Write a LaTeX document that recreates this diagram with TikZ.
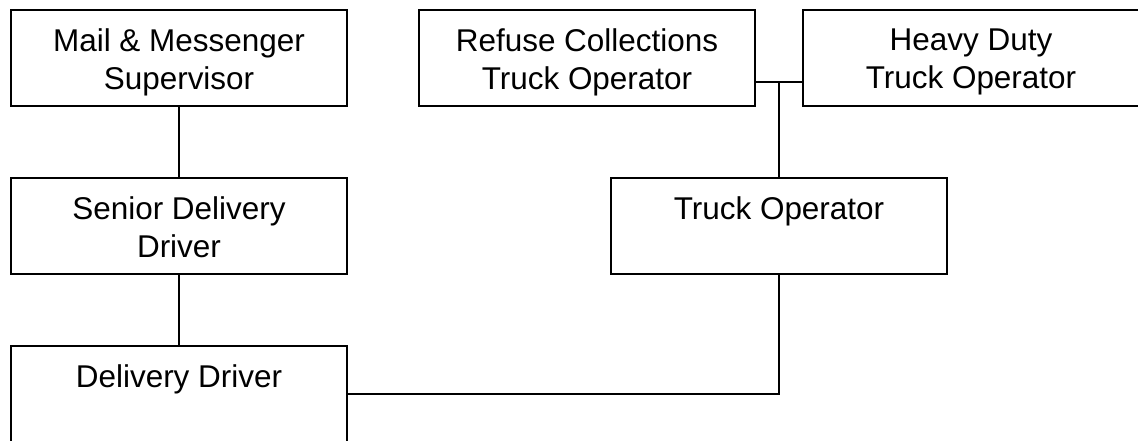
\documentclass[tikz,border=0pt]{standalone}
\usepackage{fontspec}
\setmainfont{Liberation Sans}
\begin{document}
\begin{tikzpicture}[x=0.75pt, y=-0.75pt,
  post/.style={draw, line width=1.5pt, minimum width=252pt, minimum height=72pt, inner sep=0pt,
    label={[anchor=north, align=center, inner sep=0pt, yshift=-14.5pt,
            font=\fontsize{23.6}{28.5}\selectfont]north:#1}},
  link/.style={line width=0.8pt}]
  \useasboundingbox (0,0) rectangle (1138,440);

  % job boxes: name / centre / title
  \foreach \nm/\cx/\cy/\txt in {
    mail/179/58/{Mail \& Messenger\\Supervisor},
    senior/179/226/{Senior Delivery\\Driver},
    delivery/179/394/{Delivery Driver},
    refuse/587/58/{Refuse Collections\\Truck Operator},
    heavy/971/58/{Heavy Duty\\Truck Operator},
    truck/779/226/{Truck Operator}} {
    \node[post={\txt}] (\nm) at (\cx,\cy) {};
  }

  \coordinate (fork) at (779,82);
  \draw[link] (mail) -- (senior);
  \draw[link] (senior) -- (delivery);
  \draw[link] (delivery.east) -| (truck.south);
  \draw[link] (refuse.east |- fork) -- (heavy.west |- fork);
  \draw[link] (fork) -- (truck.north);
\end{tikzpicture}
\end{document}
